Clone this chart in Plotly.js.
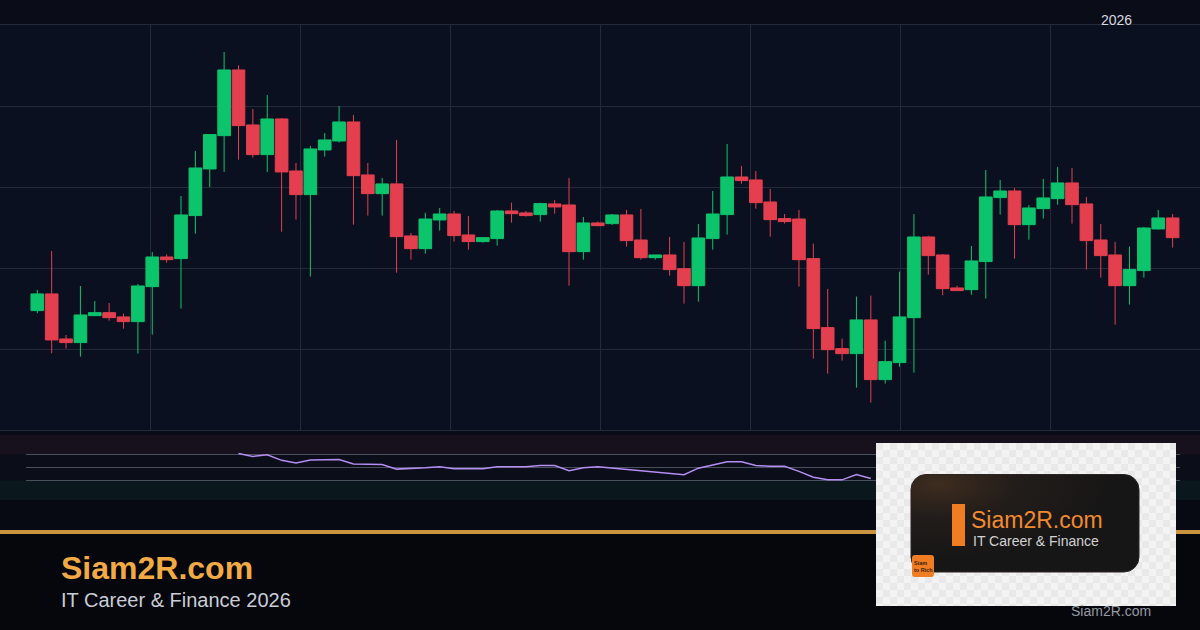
<!DOCTYPE html>
<html><head><meta charset="utf-8">
<script src="https://cdn.plot.ly/plotly-3.0.1.min.js"></script>
<style>html,body{margin:0;padding:0;background:#0a0d18;}#chart{width:1200px;height:630px;}</style>
</head><body><div id="chart"></div>
<script>
// ---- data ----
const candleIdx = [0,1,2,3,4,5,6,7,8,9,10,11,12,13,14,15,16,17,18,19,20,21,22,23,24,25,26,27,28,29,30,31,32,33,34,35,36,37,38,39,40,41,42,43,44,45,46,47,48,49,50,51,52,53,54,55,56,57,58,59,60,61,62,63,64,65,66,67,68,69,70,71,72,73,74,75,76,77,78,79];
const openVals = [114.74,116.80,111.24,110.79,114.12,114.49,113.96,113.38,117.70,121.36,
121.16,126.47,132.23,136.34,144.45,137.66,134.00,138.40,131.98,129.06,
134.57,135.68,138.03,131.49,129.18,130.38,123.96,122.39,125.93,126.67,
124.08,123.26,123.63,127.04,126.80,126.59,127.91,127.78,122.02,125.56,
125.48,126.55,123.46,121.28,121.61,119.92,117.82,123.63,126.59,131.24,
130.87,128.15,126.10,126.05,121.16,112.64,110.05,109.43,113.59,106.22,
108.32,113.87,123.83,121.61,117.54,117.33,120.79,128.69,129.51,125.35,
127.33,128.56,130.50,127.91,123.46,121.61,117.82,119.68,124.82,126.18];
const highVals = [117.29,122.10,111.73,117.78,115.93,115.68,114.37,118.03,121.98,121.69,
128.89,134.45,136.55,146.67,145.02,139.63,141.36,138.50,132.97,135.07,
136.67,140.00,138.89,132.97,131.12,135.81,124.33,126.80,127.41,127.04,
126.42,123.83,127.17,128.07,127.04,128.07,128.40,131.12,126.30,125.73,
126.67,127.17,127.29,121.61,123.83,123.22,125.44,129.51,135.31,132.60,
131.98,129.76,126.67,127.17,123.01,117.41,111.28,116.47,116.59,111.03,
119.55,126.67,123.96,121.73,117.82,122.72,132.10,130.87,129.88,127.78,
130.99,132.47,132.35,128.77,125.44,123.22,122.64,125.07,127.17,126.67];
const lowVals = [114.41,109.47,110.05,109.06,114.12,113.50,112.52,109.43,111.78,120.66,
114.99,124.24,130.00,131.86,133.38,133.63,131.86,124.49,125.97,118.94,
133.75,135.48,125.35,126.47,126.47,119.43,121.03,121.77,124.61,123.26,
122.27,123.13,122.76,125.60,126.34,125.73,126.71,117.82,121.03,125.15,
125.31,122.64,121.03,121.03,119.06,115.60,115.85,122.27,124.12,130.42,
127.33,123.87,125.48,117.70,108.81,106.96,108.57,105.23,103.38,105.73,
107.82,107.08,119.18,116.63,117.21,116.71,116.22,126.59,121.16,123.50,
126.10,127.82,125.48,119.80,118.81,113.01,115.48,118.81,124.74,122.52];
const closeVals = [116.80,111.12,110.79,114.20,114.49,113.87,113.38,117.78,121.36,121.03,
126.55,132.35,136.47,144.45,137.58,134.00,138.40,131.86,129.06,134.70,
135.81,138.03,131.40,129.18,130.38,123.87,122.39,126.05,126.67,124.00,
123.26,123.75,127.04,126.71,126.47,127.95,127.54,122.02,125.56,125.23,
126.55,123.38,121.28,121.61,119.80,117.82,123.71,126.67,131.24,130.79,
128.07,125.97,125.73,121.03,112.52,109.92,109.43,113.59,106.22,108.44,
113.96,123.83,121.53,117.45,117.21,120.87,128.77,129.51,125.35,127.41,
128.65,130.50,127.82,123.38,121.53,117.82,119.80,124.94,126.18,123.75];

const rsiIdx = [14,15,16,17,18,19,20,21,22,23,24,25,26,27,28,29,30,31,32,33,34,35,36,37,38,39,40,41,42,43,44,45,46,47,48,49,50,51,52,53,54,55,56,57,58];
const rsiVals = [71.5,67,69.5,61,57,61.5,62,62.3,55.5,54.6,54.6,47.5,48,49.5,51,48,48,48,51,51,51,53,53,45,49.5,51,49,47,44.5,43,41,39,49,54,58.7,58.7,53,52,52,44,35,31,31,39,33];
const rsiLevels = [70,50,30];

const yearLabel = '2026';
const brandName = 'Siam2R.com';
const brandSub = 'IT Career & Finance 2026';
const logoSub = 'IT Career & Finance';
const badgeText = 'Siam<br>to Rich';

// ---- layout helpers (pixel -> paper) ----
const W = 1200, H = 630;
const X = v => v / W, Y = v => 1 - v / H;
function roundRect(x0, y0, x1, y1, r) {
  return `M${X(x0 + r)},${Y(y0)} L${X(x1 - r)},${Y(y0)} Q${X(x1)},${Y(y0)} ${X(x1)},${Y(y0 + r)} ` +
         `L${X(x1)},${Y(y1 - r)} Q${X(x1)},${Y(y1)} ${X(x1 - r)},${Y(y1)} L${X(x0 + r)},${Y(y1)} ` +
         `Q${X(x0)},${Y(y1)} ${X(x0)},${Y(y1 - r)} L${X(x0)},${Y(y0 + r)} Q${X(x0)},${Y(y0)} ${X(x0 + r)},${Y(y0)} Z`;
}

// logo card background (checker + gradient card), drawn as an image; text stays real text
const cardSvg = "<svg xmlns='http://www.w3.org/2000/svg' width='300' height='163' viewBox='0 0 300 163'>" +
  "<defs><pattern id='p' width='14' height='14' patternUnits='userSpaceOnUse'>" +
  "<rect width='14' height='14' fill='#f3f3f3'/><rect width='7' height='7' fill='#e9e9e9'/><rect x='7' y='7' width='7' height='7' fill='#e9e9e9'/></pattern>" +
  "<radialGradient id='g' cx='0.12' cy='0.1' r='0.75'><stop offset='0' stop-color='#3e2c1f'/><stop offset='0.45' stop-color='#221d1a'/><stop offset='1' stop-color='#171616'/></radialGradient></defs>" +
  "<rect width='300' height='163' fill='url(#p)'/>" +
  "<rect x='35' y='31.5' width='228' height='97.5' rx='15' ry='15' fill='url(#g)' stroke='#2a2522' stroke-width='1'/></svg>";
const cardSrc = 'data:image/svg+xml;charset=utf-8,' + encodeURIComponent(cardSvg);

const GREEN = '#0cc46c', RED = '#e43f4f', GRID = '#242a3a';
const xRange = [-2.5955, 80.906];

const traces = [
  {
    type: 'candlestick', x: candleIdx, open: openVals, high: highVals, low: lowVals, close: closeVals,
    xaxis: 'x', yaxis: 'y',
    increasing: {line: {color: GREEN, width: 1}, fillcolor: GREEN},
    decreasing: {line: {color: RED, width: 1}, fillcolor: RED},
    whiskerwidth: 0, hoverinfo: 'skip'
  },
  {
    type: 'scatter', mode: 'lines', x: rsiIdx, y: rsiVals, xaxis: 'x2', yaxis: 'y2',
    line: {color: '#b48ef2', width: 1.5}, hoverinfo: 'skip'
  }
];

const shapes = [
  {type: 'rect', xref: 'paper', yref: 'paper', x0: 0, x1: 1, y0: Y(430), y1: Y(25), fillcolor: '#0b1020', line: {width: 0}, layer: 'below'},
  {type: 'rect', xref: 'paper', yref: 'y2', x0: 0, x1: 1, y0: 30, y1: 70, fillcolor: '#0b0e19', line: {width: 0}, layer: 'below'},
  {type: 'rect', xref: 'paper', yref: 'paper', x0: 0, x1: 1, y0: Y(630), y1: Y(500), fillcolor: '#070a12', line: {width: 0}, layer: 'below'},
  {type: 'rect', xref: 'paper', yref: 'paper', x0: 0, x1: 1, y0: Y(630), y1: Y(534), fillcolor: '#05070c', line: {width: 0}, layer: 'below'},
  {type: 'rect', xref: 'paper', yref: 'y2', x0: 0, x1: 1, y0: 70, y1: 100, fillcolor: '#17111e', line: {width: 0}, layer: 'below'},
  {type: 'rect', xref: 'paper', yref: 'y2', x0: 0, x1: 1, y0: 0, y1: 30, fillcolor: '#0a181d', line: {width: 0}, layer: 'below'},
  {type: 'rect', xref: 'paper', yref: 'paper', x0: 0, x1: 1, y0: Y(534), y1: Y(530), fillcolor: '#c9963f', line: {width: 0}, layer: 'below'},
  {type: 'rect', xref: 'paper', yref: 'paper', x0: X(952), x1: X(965), y0: Y(546), y1: Y(504), fillcolor: '#f07d22', line: {width: 0}, layer: 'above'},
  {type: 'path', xref: 'paper', yref: 'paper', path: roundRect(912, 555, 934, 577, 3), fillcolor: '#f07d22', line: {width: 0}, layer: 'above'}
];
rsiLevels.forEach(l => shapes.push({type: 'line', xref: 'paper', yref: 'y2', x0: X(26), x1: X(1180), y0: l, y1: l, line: {color: '#4a4f5e', width: 1}, layer: 'below'}));

const images = [
  {source: cardSrc, xref: 'paper', yref: 'paper', x: X(876), y: Y(443), sizex: 300 / W, sizey: 163 / H,
   xanchor: 'left', yanchor: 'top', sizing: 'stretch', layer: 'above'}
];

const annotations = [
  {text: yearLabel, xref: 'paper', yref: 'paper', x: X(1116), y: Y(20), showarrow: false, xanchor: 'center', yanchor: 'middle',
   font: {family: 'Liberation Sans, Arial, sans-serif', size: 14, color: '#d6d9e0'}},
  {text: '<b>' + brandName + '</b>', xref: 'paper', yref: 'paper', x: X(59), y: Y(568), showarrow: false, xanchor: 'left', yanchor: 'middle',
   font: {family: 'Liberation Sans, Arial, sans-serif', size: 32, color: '#f2aa45'}},
  {text: brandSub, xref: 'paper', yref: 'paper', x: X(59), y: Y(600), showarrow: false, xanchor: 'left', yanchor: 'middle',
   font: {family: 'Liberation Sans, Arial, sans-serif', size: 20, color: '#c9cdd6'}},
  {text: brandName, xref: 'paper', yref: 'paper', x: X(969), y: Y(520), showarrow: false, xanchor: 'left', yanchor: 'middle',
   font: {family: 'Liberation Sans, Arial, sans-serif', size: 23, color: '#f28a2e'}},
  {text: logoSub, xref: 'paper', yref: 'paper', x: X(971), y: Y(541), showarrow: false, xanchor: 'left', yanchor: 'middle',
   font: {family: 'Liberation Sans, Arial, sans-serif', size: 14, color: '#d2d2d2'}},
  {text: '<b>' + badgeText + '</b>', xref: 'paper', yref: 'paper', x: X(913), y: Y(566), showarrow: false, xanchor: 'left', yanchor: 'middle', align: 'left',
   borderpad: 0, font: {family: 'Liberation Sans, Arial, sans-serif', size: 5.5, color: '#3a1e08'}},
  {text: brandName, xref: 'paper', yref: 'paper', x: X(1069), y: Y(611), showarrow: false, xanchor: 'left', yanchor: 'middle',
   font: {family: 'Liberation Sans, Arial, sans-serif', size: 14, color: '#959aa4'}}
];

const layout = {
  width: W, height: H, margin: {l: 0, r: 0, t: 0, b: 0, pad: 0},
  paper_bgcolor: '#0a0d18', plot_bgcolor: 'rgba(0,0,0,0)',
  showlegend: false, boxgap: 0.12, boxgroupgap: 0,
  xaxis: {domain: [0, 1], range: xRange, anchor: 'y', tickmode: 'array',
          tickvals: [7.842, 18.28, 28.718, 39.156, 49.594, 60.032, 70.47],
          showgrid: true, gridcolor: GRID, gridwidth: 1, showticklabels: false, ticks: '',
          zeroline: false, showline: true, mirror: true, linecolor: GRID, linewidth: 1,
          rangeslider: {visible: false}, fixedrange: true},
  yaxis: {domain: [Y(430), Y(25)], range: [100, 150], tickmode: 'linear', tick0: 100, dtick: 10,
          showgrid: true, gridcolor: GRID, gridwidth: 1, showticklabels: false, ticks: '', zeroline: false, fixedrange: true},
  xaxis2: {domain: [0, 1], range: xRange, anchor: 'y2', showgrid: false, showticklabels: false, ticks: '', zeroline: false, showline: false, fixedrange: true},
  yaxis2: {domain: [Y(500), Y(435)], range: [0, 100], anchor: 'x2', showgrid: false, showticklabels: false, ticks: '', zeroline: false, fixedrange: true},
  shapes: shapes, images: images, annotations: annotations
};

Plotly.newPlot('chart', traces, layout, {staticPlot: true, displayModeBar: false});
</script>
</body></html>
